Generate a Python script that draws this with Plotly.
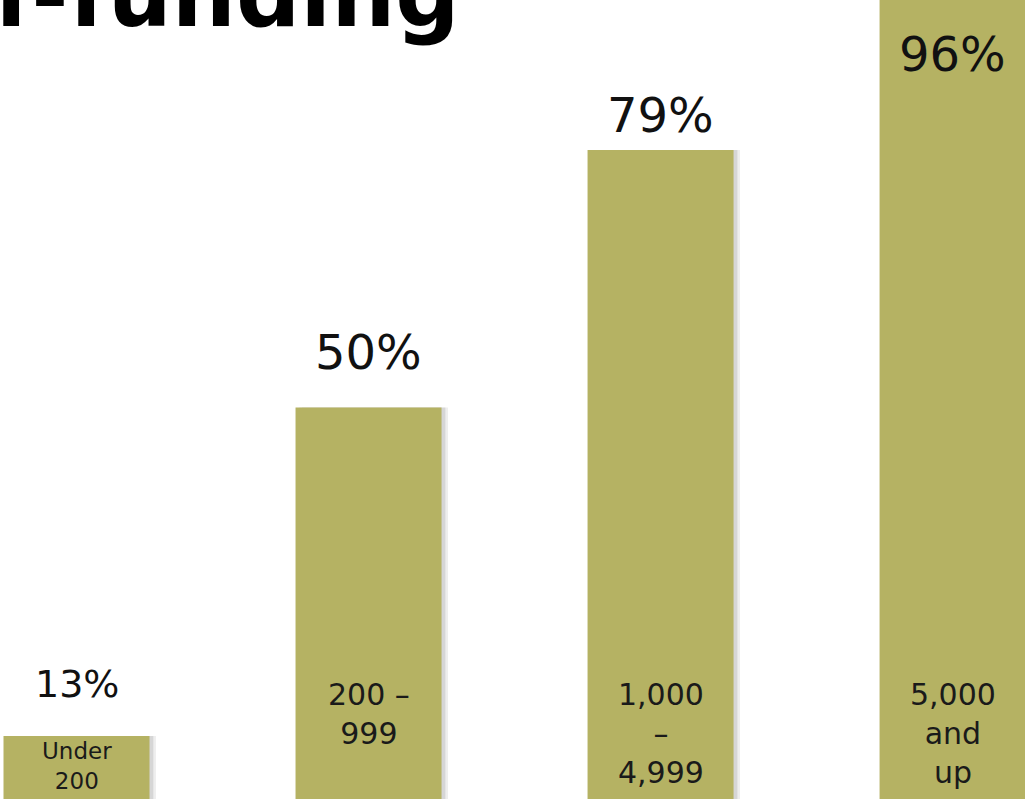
import plotly.graph_objects as go

# Share of covered workers in self-funded plans, by firm size (number of workers)
firm_sizes = ["Under<br>200", "200 –<br>999", "1,000<br>–<br>4,999", "5,000<br>and<br>up"]
pct_self_funded = [13, 50, 79, 96]
title_text = "Self-funding"

# styling / placement
BAR_COLOR = "#B5B263"
FONT = "DejaVu Sans"
W, H = 1025, 799
Y_RANGE = [5.9, 95.9]
pct_font_sizes = [38, 48, 48, 48]
pct_yshift = [52, 55, 35, -54]           # px relative to the (clamped) bar top
size_font_sizes = [23, 30, 30, 30]
size_center_px = [766, 713.5, 733, 733]  # vertical centre of in-bar labels (px from top)

fig = go.Figure()

# soft drop shadow to the right of each bar (two layers for a faded edge)
for dx, alpha in [(0.022, 0.08), (0.013, 0.12)]:
    fig.add_trace(go.Bar(
        x=firm_sizes, y=pct_self_funded,
        width=0.5, offset=-0.25 + dx, base=0,
        marker=dict(color=f"rgba(40,40,40,{alpha})", line=dict(width=0)),
        hoverinfo="skip", showlegend=False,
    ))
fig.add_trace(go.Bar(
    x=firm_sizes, y=pct_self_funded,
    width=0.5, offset=-0.25,
    marker=dict(color=BAR_COLOR, line=dict(width=0)),
    showlegend=False,
))

annotations = []
for i, (cat, v) in enumerate(zip(firm_sizes, pct_self_funded)):
    # value labels sit above the bar; the tallest bar runs off the top, so clamp
    anchor_y = min(v, Y_RANGE[1] - 1e-6)
    annotations.append(dict(
        x=cat, y=anchor_y, xref="x", yref="y",
        text=f"{v}%", showarrow=False,
        xanchor="center", yanchor="middle", yshift=pct_yshift[i],
        font=dict(family=FONT, size=pct_font_sizes[i], color="#111111"),
    ))
    annotations.append(dict(
        x=cat, y=1 - size_center_px[i] / H, xref="x", yref="paper",
        text=cat, showarrow=False,
        xanchor="center", yanchor="middle", align="center",
        font=dict(family=FONT, size=size_font_sizes[i], color="#1a1a1a"),
    ))

annotations.append(dict(
    x=462 / W, y=1 + 5 / H, xref="paper", yref="paper",
    text=f"<b>{title_text}</b>", showarrow=False,
    xanchor="right", yanchor="middle",
    font=dict(family=FONT, size=90, color="#000000"),
))

fig.update_layout(
    width=W, height=H,
    margin=dict(l=0, r=0, t=0, b=0),
    paper_bgcolor="white", plot_bgcolor="white",
    barmode="overlay",
    showlegend=False,
    annotations=annotations,
    xaxis=dict(range=[-0.262, 3.248], visible=False, fixedrange=True),
    yaxis=dict(range=Y_RANGE, visible=False, fixedrange=True),
)

fig.write_html("out.html", config={"displayModeBar": False})
